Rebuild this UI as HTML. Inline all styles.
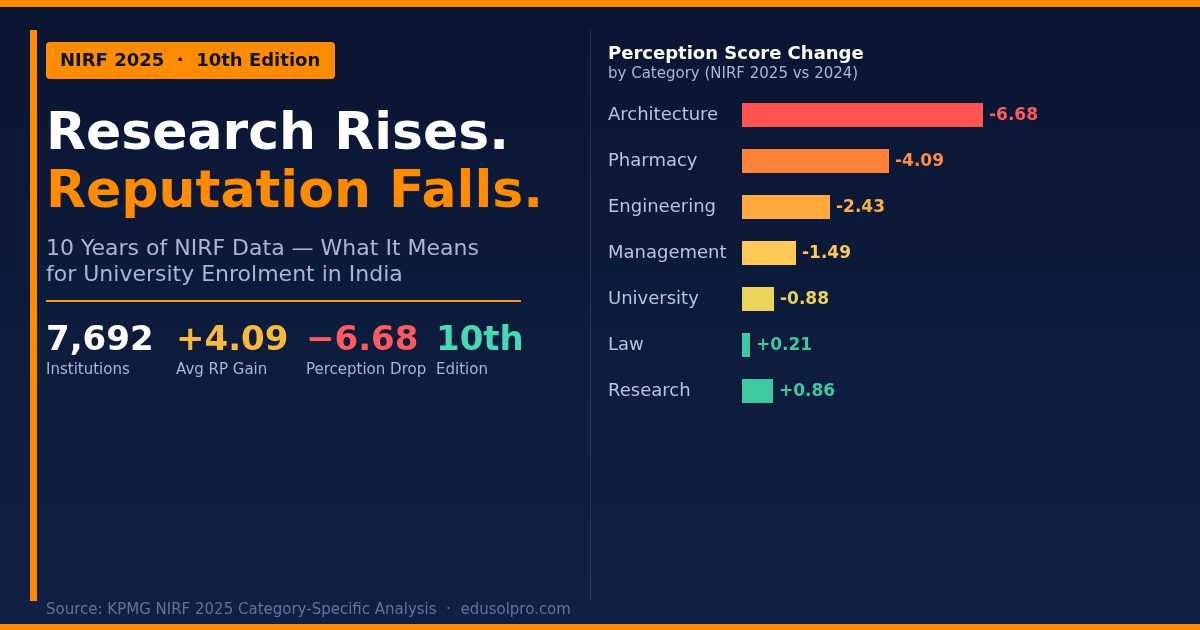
<!DOCTYPE html>
<html lang="en">
<head>
<meta charset="utf-8">
<title>NIRF 2025 — Research Rises. Reputation Falls.</title>
<style>
  html, body { margin: 0; padding: 0; }
  body {
    width: 1200px; height: 630px; overflow: hidden; position: relative;
    font-family: "DejaVu Sans", "Liberation Sans", sans-serif;
    background: linear-gradient(180deg, #0a1532 0%, #0d1b3c 50%, #121f46 100%);
    color: #fff;
  }
  .abs { position: absolute; }
  .topbar { left: 0; top: 0; width: 1200px; height: 7px; background: #ff8c00; }
  .botbar { left: 0; top: 624px; width: 1200px; height: 6px; background: #ff8c00; }
  .leftbar { left: 30px; top: 30px; width: 7px; height: 571px; background: #ff8c00; }
  .vdiv { left: 590px; top: 30px; width: 1px; height: 571px; background: rgba(255,255,255,0.1); }

  .badge {
    left: 46px; top: 42px; width: 289px; height: 37px; background: #ff8c00;
    border-radius: 4px; color: #0b1530; font-weight: bold; font-size: 18px;
    line-height: 35px; box-sizing: border-box; padding-left: 14px; white-space: pre;
  }
  .t1, .t2 { left: 46px; font-weight: bold; font-size: 52px; line-height: 58px; white-space: nowrap; }
  .t1 { top: 102px; color: #ffffff; }
  .t2 { top: 160px; color: #ff8c00; }
  .sub { left: 46px; top: 235px; font-size: 22px; line-height: 26px; color: #a9b6d6; white-space: nowrap; }
  .hr { left: 46px; top: 300px; width: 475px; height: 2px; background: #fb981c; }

  .stat { top: 318px; }
  .stat .n { font-weight: bold; font-size: 34px; line-height: 40px; white-space: nowrap; }
  .stat .l { font-size: 15px; line-height: 18px; margin-top: 2px; color: #a9b6d6; white-space: nowrap; }

  .ctitle { left: 608px; top: 43px; font-weight: bold; font-size: 18px; line-height: 20px; color: #fff; }
  .csub { left: 608px; top: 65px; font-size: 15px; line-height: 17px; color: #a9b6d6; }
  .cat { left: 608px; font-size: 18px; line-height: 24px; margin-top: -1px; color: #b8c4e0; white-space: nowrap; }
  .bar { left: 742px; height: 24px; }
  .val { font-weight: bold; font-size: 17px; line-height: 24px; margin-top: -1px; white-space: nowrap; }

  .foot { left: 46px; top: 601px; font-size: 15px; line-height: 17px; color: #63739c; white-space: pre; }
</style>
</head>
<body>
  <div class="abs topbar"></div>
  <div class="abs botbar"></div>
  <div class="abs leftbar"></div>
  <div class="abs vdiv"></div>

  <div class="abs badge">NIRF 2025  ·  10th Edition</div>
  <div class="abs t1">Research Rises.</div>
  <div class="abs t2">Reputation Falls.</div>
  <div class="abs sub">10 Years of NIRF Data — What It Means<br>for University Enrolment in India</div>
  <div class="abs hr"></div>

  <div class="abs stat" style="left:46px"><div class="n" style="color:#ffffff">7,692</div><div class="l">Institutions</div></div>
  <div class="abs stat" style="left:176px"><div class="n" style="color:#fbb93c">+4.09</div><div class="l">Avg RP Gain</div></div>
  <div class="abs stat" style="left:306px"><div class="n" style="color:#ff5a5f">−6.68</div><div class="l">Perception Drop</div></div>
  <div class="abs stat" style="left:436px"><div class="n" style="color:#46d9b5">10th</div><div class="l">Edition</div></div>

  <div class="abs ctitle">Perception Score Change</div>
  <div class="abs csub">by Category (NIRF 2025 vs 2024)</div>

  <div class="abs cat" style="top:103px">Architecture</div>
  <div class="abs bar" style="top:103px;width:241px;background:#ff5252"></div>
  <div class="abs val" style="top:103px;left:989px;color:#ff5a5f">-6.68</div>

  <div class="abs cat" style="top:149px">Pharmacy</div>
  <div class="abs bar" style="top:149px;width:147px;background:#ff823a"></div>
  <div class="abs val" style="top:149px;left:895px;color:#ff8a45">-4.09</div>

  <div class="abs cat" style="top:195px">Engineering</div>
  <div class="abs bar" style="top:195px;width:88px;background:#ffa93f"></div>
  <div class="abs val" style="top:195px;left:836px;color:#ffae45">-2.43</div>

  <div class="abs cat" style="top:241px">Management</div>
  <div class="abs bar" style="top:241px;width:54px;background:#ffc857"></div>
  <div class="abs val" style="top:241px;left:802px;color:#ffc857">-1.49</div>

  <div class="abs cat" style="top:287px">University</div>
  <div class="abs bar" style="top:287px;width:32px;background:#ecd35c"></div>
  <div class="abs val" style="top:287px;left:780px;color:#ecd35c">-0.88</div>

  <div class="abs cat" style="top:333px">Law</div>
  <div class="abs bar" style="top:333px;width:8px;background:#3ec9a0"></div>
  <div class="abs val" style="top:333px;left:756px;color:#3ec9a0">+0.21</div>

  <div class="abs cat" style="top:379px">Research</div>
  <div class="abs bar" style="top:379px;width:31px;background:#3ec9a0"></div>
  <div class="abs val" style="top:379px;left:779px;color:#3ec9a0">+0.86</div>

  <div class="abs foot">Source: KPMG NIRF 2025 Category-Specific Analysis  ·  edusolpro.com</div>
</body>
</html>
